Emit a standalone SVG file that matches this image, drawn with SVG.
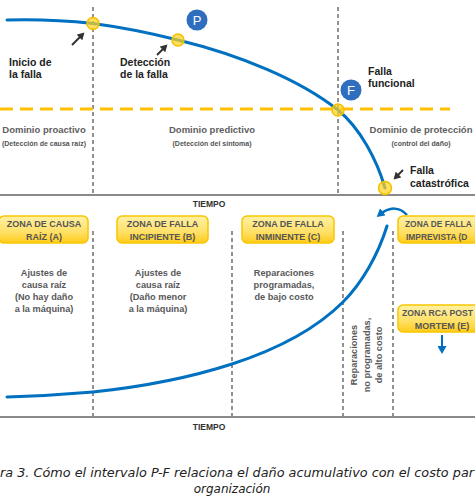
<svg xmlns="http://www.w3.org/2000/svg" width="475" height="500" viewBox="0 0 475 500">
<style>
.lbl{font-family:"Liberation Sans",Arial,sans-serif;font-weight:bold;font-size:10.5px;fill:#222}
.dom{font-family:"Liberation Sans",Arial,sans-serif;font-weight:bold;font-size:9.5px;fill:#606060;text-anchor:middle}
.domsub{font-family:"Liberation Sans",Arial,sans-serif;font-weight:bold;font-size:7px;fill:#555;text-anchor:middle}
.axis{font-family:"Liberation Sans",Arial,sans-serif;font-weight:bold;font-size:8.5px;fill:#333;text-anchor:middle}
.zt{font-family:"Liberation Sans",Arial,sans-serif;font-weight:bold;font-size:9px;fill:#555;text-anchor:middle}
.zb{font-family:"Liberation Sans",Arial,sans-serif;font-weight:bold;font-size:9.2px;fill:#595959;text-anchor:middle}
.cap{font-family:"DejaVu Sans",Verdana,sans-serif;font-style:italic;font-size:12px;fill:#222}
.vd{stroke:#777;stroke-width:1.6;stroke-dasharray:4 3;fill:none}
.ax{stroke:#8a8a8a;stroke-width:2}
.blue{stroke:#0070C0;stroke-width:3;fill:none;stroke-linecap:round}
.pt{fill:#FFD21F;fill-opacity:.72;stroke:#F5C000;stroke-width:1.5}
.ptr{stroke:#333;stroke-width:2;marker-end:url(#ah)}
.box{fill:url(#yg);stroke:#F7C600;stroke-width:1.5}
.badge{fill:#2F6DBF}
.bt{font-family:"Liberation Sans",Arial,sans-serif;font-size:13px;fill:#fff;text-anchor:middle}
</style>
<defs>
<linearGradient id="yg" x1="0" y1="0" x2="0" y2="1">
<stop offset="0" stop-color="#FFF1A6"/>
<stop offset="0.6" stop-color="#FFE066"/>
<stop offset="1" stop-color="#FFCB1A"/>
</linearGradient>
<marker id="ah" markerWidth="8" markerHeight="8" refX="5" refY="4" orient="auto" markerUnits="userSpaceOnUse">
<path d="M0,0 L7,4 L0,8 Z" fill="#333"/>
</marker>
<marker id="bh" markerWidth="9" markerHeight="9" refX="5" refY="4.5" orient="auto" markerUnits="userSpaceOnUse">
<path d="M0,0 L8,4.5 L0,9 Z" fill="#0070C0"/>
</marker>
</defs>

<g id="grid">
<line class="vd" x1="93" y1="7" x2="93" y2="195"/>
<line class="vd" x1="338" y1="7" x2="338" y2="195"/>
<line class="vd" x1="93" y1="231" x2="93" y2="417"/>
<line class="vd" x1="232" y1="231" x2="232" y2="417"/>
<line class="vd" x1="343" y1="231" x2="343" y2="417"/>
<line class="vd" x1="393" y1="231" x2="393" y2="417"/>
<line x1="0" y1="109" x2="450" y2="109" stroke="#FFC000" stroke-width="3" stroke-dasharray="13 7"/>
<line class="ax" x1="0" y1="195" x2="475" y2="195"/>
<line class="ax" x1="0" y1="417" x2="475" y2="417"/>
<text class="axis" x="209" y="207">TIEMPO</text>
<text class="axis" x="209" y="430">TIEMPO</text>
</g>

<g id="connectors">
<path class="blue" d="M7,20 C40,19 70,21 93,23.5 C120,27 150,33 178,40 C240,55 300,80 338,110 C360,128 377,160 385,188"/>
<path class="blue" d="M7,397 C40,396 70,394 93,392 C150,386 195,376 232,364 C275,350 315,330 343,302 C362,283 378,255 387,226"/>
<path d="M407,215 C400,207 390,206 379,215" stroke="#0070C0" stroke-width="2.5" fill="none" marker-end="url(#bh)"/>
<line x1="442" y1="335" x2="442" y2="351" stroke="#0070C0" stroke-width="2" marker-end="url(#bh)"/>
<line class="ptr" x1="72" y1="45" x2="83" y2="34"/>
<line class="ptr" x1="157" y1="55" x2="166" y2="46"/>
<line class="ptr" x1="403" y1="170" x2="395" y2="178"/>
</g>

<g id="inicio">
<circle class="pt" cx="93" cy="23.5" r="6"/>
<text class="lbl" x="9" y="66">Inicio de</text>
<text class="lbl" x="9" y="78">la falla</text>
</g>
<g id="deteccion">
<circle class="pt" cx="178" cy="40" r="6"/>
<text class="lbl" x="120" y="66">Detección</text>
<text class="lbl" x="120" y="78">de la falla</text>
</g>
<g id="P">
<circle class="badge" cx="197" cy="20" r="10.5"/>
<text class="bt" x="197" y="25">P</text>
</g>
<g id="funcional">
<circle class="pt" cx="338" cy="110" r="6"/>
<circle class="badge" cx="351" cy="90" r="10.5"/>
<text class="bt" x="351" y="95">F</text>
<text class="lbl" x="368" y="75">Falla</text>
<text class="lbl" x="368" y="87">funcional</text>
</g>
<g id="catastrofica">
<circle class="pt" cx="385" cy="188" r="6.5"/>
<text class="lbl" x="410" y="174">Falla</text>
<text class="lbl" x="410" y="187">catastrófica</text>
</g>

<g id="dominio-proactivo">
<text class="dom" x="44" y="132.5">Dominio proactivo</text>
<text class="domsub" x="44" y="145.5">(Detección de causa raíz)</text>
</g>
<g id="dominio-predictivo">
<text class="dom" x="212" y="132.5">Dominio predictivo</text>
<text class="domsub" x="212" y="145.5">(Detección del síntoma)</text>
</g>
<g id="dominio-proteccion">
<text class="dom" x="421" y="132.5">Dominio de protección</text>
<text class="domsub" x="421" y="145.5">(control del daño)</text>
</g>

<g id="zona-a">
<rect class="box" x="-1" y="216" width="89" height="27" rx="5"/>
<text class="zt" x="44" y="226.5">ZONA DE CAUSA</text>
<text class="zt" x="44" y="239.5">RAÍZ (A)</text>
<text class="zb" x="44" y="276">Ajustes de</text>
<text class="zb" x="44" y="288">causa raíz</text>
<text class="zb" x="44" y="300">(No hay daño</text>
<text class="zb" x="44" y="312">a la máquina)</text>
</g>
<g id="zona-b">
<rect class="box" x="117" y="216" width="91" height="27" rx="5"/>
<text class="zt" x="162.5" y="226.5">ZONA DE FALLA</text>
<text class="zt" x="162.5" y="239.5">INCIPIENTE (B)</text>
<text class="zb" x="158" y="276">Ajustes de</text>
<text class="zb" x="158" y="288">causa raíz</text>
<text class="zb" x="158" y="300">(Daño menor</text>
<text class="zb" x="158" y="312">a la máquina)</text>
</g>
<g id="zona-c">
<rect class="box" x="242" y="216" width="92" height="27" rx="5"/>
<text class="zt" x="288" y="226.5">ZONA DE FALLA</text>
<text class="zt" x="288" y="239.5">INMINENTE (C)</text>
<text class="zb" x="284" y="276">Reparaciones</text>
<text class="zb" x="284" y="288">programadas,</text>
<text class="zb" x="284" y="300">de bajo costo</text>
</g>
<g id="no-programadas">
<text class="zb" transform="translate(357,355) rotate(-90)" x="0" y="0">Reparaciones</text>
<text class="zb" transform="translate(369.5,355) rotate(-90)" x="0" y="0">no programadas,</text>
<text class="zb" transform="translate(382,355) rotate(-90)" x="0" y="0">de alto costo</text>
</g>
<g id="zona-d">
<rect class="box" x="398" y="216" width="92" height="27" rx="5"/>
<text class="zt" x="405" y="226.5" style="text-anchor:start;font-size:8.4px">ZONA DE FALLA</text>
<text class="zt" x="406" y="239.5" style="text-anchor:start;font-size:8.4px">IMPREVISTA (D</text>
</g>
<g id="zona-e">
<rect class="box" x="398" y="305" width="92" height="27" rx="5"/>
<text class="zt" x="402" y="315.5" style="text-anchor:start" textLength="71" lengthAdjust="spacingAndGlyphs">ZONA RCA POST</text>
<text class="zt" x="442" y="328.5">MORTEM (E)</text>
</g>

<g id="caption">
<text class="cap" x="0" y="477" textLength="474" lengthAdjust="spacingAndGlyphs">ra 3. Cómo el intervalo P-F relaciona el daño acumulativo con el costo par</text>
<text class="cap" x="232" y="493" text-anchor="middle">organización</text>
</g>
</svg>
